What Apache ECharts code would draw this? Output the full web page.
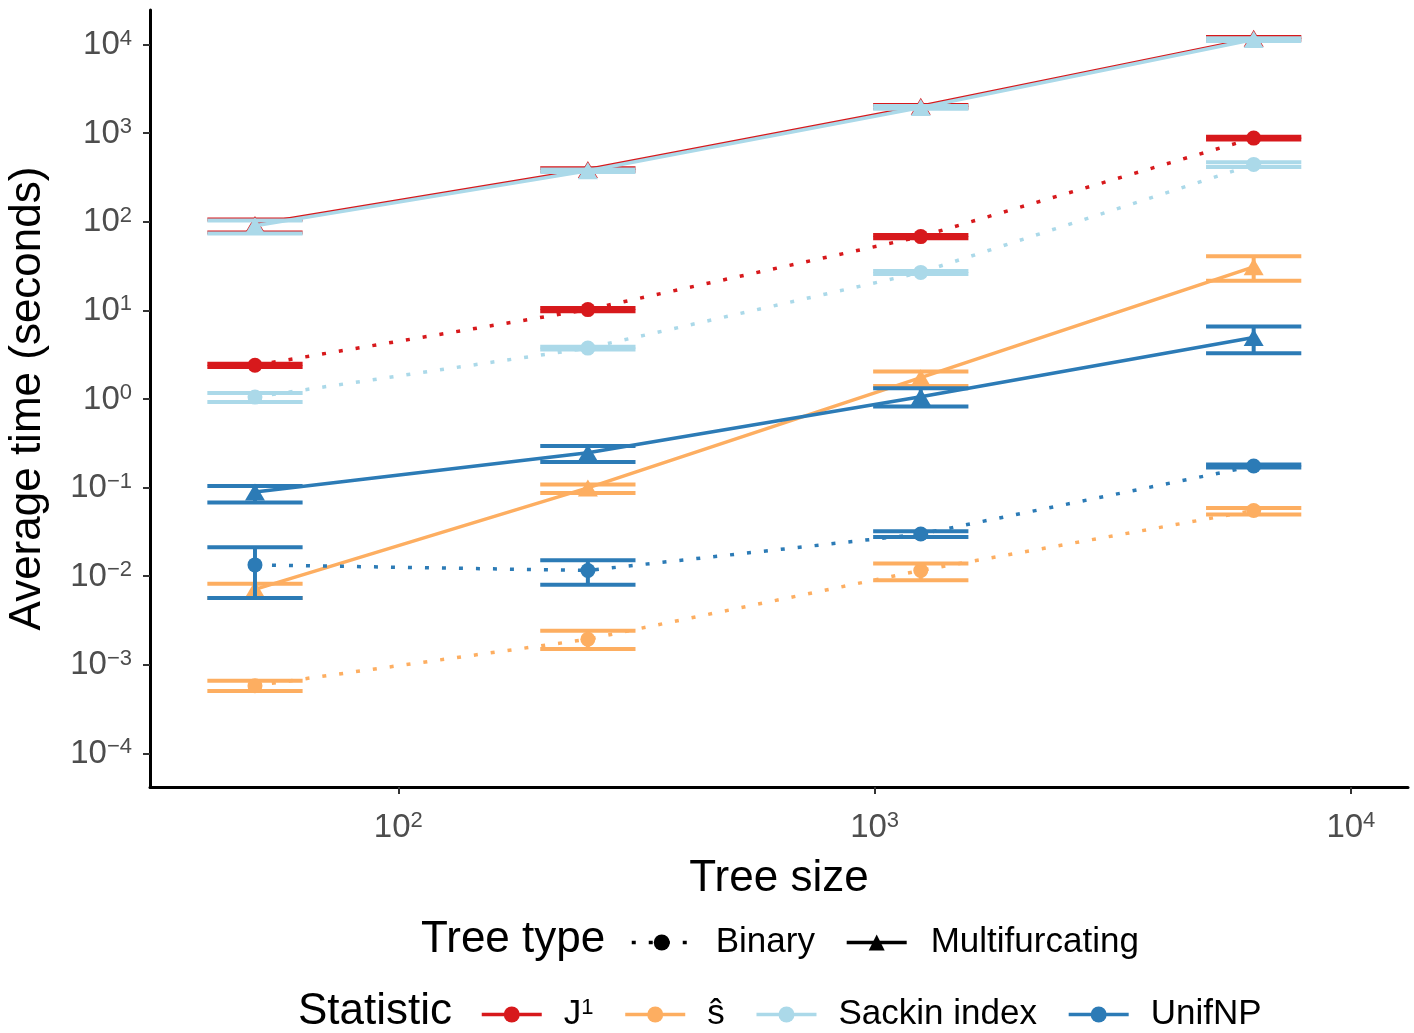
<!DOCTYPE html>
<html><head><meta charset="utf-8">
<script src="https://cdn.jsdelivr.net/npm/echarts@6/dist/echarts.min.js"></script>
<style>html,body{margin:0;padding:0;background:#fff}#c{width:1414px;height:1033px}</style>
</head><body><div id="c"></div>
<script>
// ---------------- data ----------------
const treeSizes = [50, 250, 1250, 6250];
const statistics = ['J1', 'shat', 'Sackin index', 'UnifNP'];
const treeTypes = ['Binary', 'Multifurcating'];
const yTickValues = [1e-4, 1e-3, 1e-2, 1e-1, 1, 10, 100, 1e3, 1e4];
const xTickValues = [100, 1000, 10000];

const j1BinaryMean = [2.4, 10.2, 68, 880];
const j1BinaryLow  = [2.3, 9.8, 65, 850];
const j1BinaryHigh = [2.5, 10.6, 71, 910];
const j1MultiMean  = [93, 388, 2010, 11750];
const j1MultiLow   = [75.5, 376, 1935, 11330];
const j1MultiHigh  = [106, 402, 2080, 12150];

const shatBinaryMean = [0.00058, 0.00194, 0.0116, 0.055];
const shatBinaryLow  = [0.000507, 0.00151, 0.0090, 0.0496];
const shatBinaryHigh = [0.00066, 0.00242, 0.0139, 0.0589];
const shatMultiMean  = [0.0071, 0.099, 1.74, 31];
const shatMultiLow   = [0.00565, 0.087, 1.40, 21.6];
const shatMultiHigh  = [0.0082, 0.108, 2.04, 40.7];

const sackinBinaryMean = [1.05, 3.75, 26.8, 444];
const sackinBinaryLow  = [0.925, 3.62, 25.8, 414];
const sackinBinaryHigh = [1.17, 3.88, 27.8, 471];
const sackinMultiMean  = [90, 377, 1950, 11400];
const sackinMultiLow   = [73.5, 365, 1880, 11000];
const sackinMultiHigh  = [103, 390, 2020, 11800];

const unifBinaryMean = [0.0134, 0.0116, 0.0299, 0.175];
const unifBinaryLow  = [0.00565, 0.0080, 0.0277, 0.168];
const unifBinaryHigh = [0.0212, 0.0151, 0.0321, 0.182];
const unifMultiMean  = [0.089, 0.247, 1.06, 4.94];
const unifMultiLow   = [0.068, 0.194, 0.82, 3.29];
const unifMultiHigh  = [0.104, 0.294, 1.32, 6.58];

// ---------------- styling ----------------
const FONT = 'Liberation Sans, Arial, sans-serif';
const colors = {'J1': '#D7191C', 'shat': '#FDAE61', 'Sackin index': '#ABD9E9', 'UnifNP': '#2C7BB6'};
const CAP = 0.1; // half width of error bar caps, in decades
const DOT = [4, 13];
const LW = 3.5;

const table = {
  'J1': {Binary: [j1BinaryMean, j1BinaryLow, j1BinaryHigh], Multifurcating: [j1MultiMean, j1MultiLow, j1MultiHigh]},
  'shat': {Binary: [shatBinaryMean, shatBinaryLow, shatBinaryHigh], Multifurcating: [shatMultiMean, shatMultiLow, shatMultiHigh]},
  'Sackin index': {Binary: [sackinBinaryMean, sackinBinaryLow, sackinBinaryHigh], Multifurcating: [sackinMultiMean, sackinMultiLow, sackinMultiHigh]},
  'UnifNP': {Binary: [unifBinaryMean, unifBinaryLow, unifBinaryHigh], Multifurcating: [unifMultiMean, unifMultiLow, unifMultiHigh]}
};

function errRender(color) {
  return function (params, api) {
    const x = api.value(0), lo = api.value(1), hi = api.value(2);
    const f = Math.pow(10, CAP);
    const a = api.coord([x / f, hi]), b = api.coord([x * f, hi]);
    const c = api.coord([x / f, lo]), d = api.coord([x * f, lo]);
    const m1 = api.coord([x, hi]), m2 = api.coord([x, lo]);
    const st = {stroke: color, lineWidth: 4, fill: null, lineCap: 'butt'};
    return {type: 'group', children: [
      {type: 'line', shape: {x1: m1[0], y1: m1[1], x2: m2[0], y2: m2[1]}, style: st},
      {type: 'line', shape: {x1: a[0], y1: a[1], x2: b[0], y2: b[1]}, style: st},
      {type: 'line', shape: {x1: c[0], y1: c[1], x2: d[0], y2: d[1]}, style: st}
    ]};
  };
}

const series = [];
statistics.forEach((s, si) => {
  treeTypes.forEach(t => {
    const [mean, lo, hi] = table[s][t];
    series.push({
      type: 'custom', name: s + ' ' + t + ' err', z: 2 + si,
      renderItem: errRender(colors[s]),
      encode: {x: 0, y: [1, 2]},
      data: treeSizes.map((x, i) => [x, lo[i], hi[i]]),
      silent: true
    });
  });
  treeTypes.forEach(t => {
    const [mean] = table[s][t];
    const bin = t === 'Binary';
    series.push({
      type: 'line', name: s + ' ' + t, z: 2 + si,
      data: treeSizes.map((x, i) => [x, mean[i]]),
      symbol: bin ? 'circle' : 'triangle',
      symbolSize: bin ? 15 : [20, 17],
      showAllSymbol: true,
      itemStyle: {color: colors[s], borderWidth: 0},
      lineStyle: {color: colors[s], width: LW, type: bin ? DOT : 'solid', cap: 'butt'},
      emphasis: {disabled: true},
      silent: true
    });
  });
});

// legend-only series
series.push({type: 'line', name: 'Binary', data: [], symbol: 'circle', itemStyle: {color: '#000'}, lineStyle: {color: '#000', width: LW, type: DOT}});
series.push({type: 'line', name: 'Multifurcating', data: [], symbol: 'triangle', itemStyle: {color: '#000'}, lineStyle: {color: '#000', width: LW}});
statistics.forEach(s => {
  series.push({type: 'line', name: s, data: [], symbol: 'circle', itemStyle: {color: colors[s]}, lineStyle: {color: colors[s], width: LW}});
});

function powLabel(v) {
  const e = Math.round(Math.log10(v));
  return '{b|10}{s|' + String(e).replace('-', '\u2212') + '}';
}
const labelRich = {
  b: {fontSize: 33, fontFamily: FONT, color: '#4D4D4D', lineHeight: 34, verticalAlign: 'bottom'},
  s: {fontSize: 22, fontFamily: FONT, color: '#4D4D4D', lineHeight: 22, verticalAlign: 'top'}
};

function legendText(padLeft) {
  return {fontSize: 35, fontFamily: FONT, color: '#000', padding: [0, 0, 0, padLeft],
    rich: {n: {fontSize: 35, fontFamily: FONT, color: '#000'}, sup: {fontSize: 22, fontFamily: FONT, color: '#000', verticalAlign: 'top'}}};
}
const legendLine = {width: 3.5};

const option = {
  animation: false,
  backgroundColor: '#fff',
  textStyle: {fontFamily: FONT},
  title: [
    {text: 'Tree type', left: 421, top: 918, padding: 0, textStyle: {fontSize: 44, fontWeight: 'normal', color: '#000', fontFamily: FONT}},
    {text: 'Statistic', left: 298, top: 990, padding: 0, textStyle: {fontSize: 44, fontWeight: 'normal', color: '#000', fontFamily: FONT}}
  ],
  legend: [
    {data: ['Binary', 'Multifurcating'], left: 630, top: 925, padding: 0, itemWidth: 60, itemHeight: 20, itemGap: 30,
     selectedMode: false, textStyle: legendText(19), lineStyle: legendLine},
    {data: statistics, left: 480, top: 997, padding: 0, itemWidth: 60, itemHeight: 20, itemGap: 30,
     selectedMode: false, textStyle: legendText(17), lineStyle: legendLine,
     formatter: n => n === 'J1' ? '{n|J}{sup|1}' : (n === 'shat' ? '\u015D' : n)}
  ],
  grid: {left: 150, right: 6, top: 10, bottom: 246, containLabel: false, outerBoundsMode: 'none'},
  xAxis: {
    type: 'log', logBase: 10, min: 30.1, max: 13180,
    name: 'Tree size', nameLocation: 'middle', nameGap: 70,
    nameTextStyle: {fontSize: 44, color: '#000', fontFamily: FONT},
    axisLine: {show: true, onZero: false, lineStyle: {color: '#000', width: 3}},
    axisTick: {show: true, length: 7, lineStyle: {color: '#333', width: 2}, customValues: xTickValues},
    axisLabel: {margin: 23, formatter: powLabel, rich: labelRich, customValues: xTickValues},
    splitLine: {show: false}, minorTick: {show: false}
  },
  yAxis: {
    type: 'log', logBase: 10, min: 4.17e-5, max: 24550,
    name: 'Average time (seconds)', nameLocation: 'middle', nameGap: 100,
    nameTextStyle: {fontSize: 44, color: '#000', fontFamily: FONT},
    axisLine: {show: true, onZero: false, lineStyle: {color: '#000', width: 3}},
    axisTick: {show: true, length: 7, lineStyle: {color: '#333', width: 2}, customValues: yTickValues},
    axisLabel: {margin: 18, formatter: powLabel, rich: labelRich, customValues: yTickValues},
    splitLine: {show: false}, minorTick: {show: false}
  },
  series: series
};

const chart = echarts.init(document.getElementById('c'), null, {renderer: 'canvas'});
chart.setOption(option);
</script>
</body></html>
